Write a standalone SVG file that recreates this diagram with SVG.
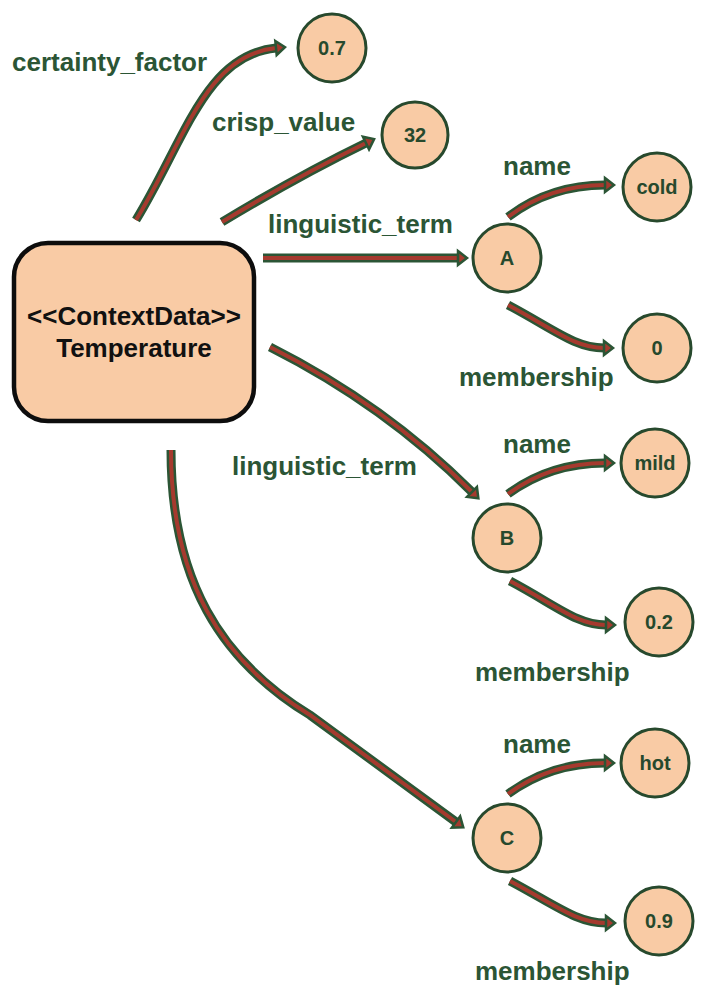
<svg xmlns="http://www.w3.org/2000/svg" width="703" height="1000" viewBox="0 0 703 1000">
<style>
.co{fill:none;stroke:#2b5535;stroke-width:9;stroke-linecap:butt}
.ci{fill:none;stroke:#a53a2e;stroke-width:4;stroke-linecap:butt}
.nd{fill:#f9cba5;stroke:#27492d;stroke-width:3}
.nt{font-family:"Liberation Sans",Arial,sans-serif;font-weight:bold;font-size:20px;fill:#27492d;text-anchor:middle}
.lb{font-family:"Liberation Sans",Arial,sans-serif;font-weight:bold;font-size:26px;fill:#2b5535}
.mt{font-family:"Liberation Sans",Arial,sans-serif;font-weight:bold;font-size:26px;fill:#111;text-anchor:middle}
</style>
<defs>
<marker id="ah" markerUnits="userSpaceOnUse" markerWidth="14" markerHeight="20" viewBox="-2 -10 14 20" refX="0" refY="0" orient="auto">
<path d="M0,-7 L9,0 L0,7 Z" fill="#a53a2e" stroke="#2b5535" stroke-width="2.5" stroke-linejoin="miter"/>
</marker>
</defs>
<g id="connectors">
<path class="co" d="M136,220 C185,140 205,55 276,48"/>
<path class="ci" d="M136,220 C185,140 205,55 276,48" marker-end="url(#ah)"/>
<path class="co" d="M222,222 Q300,175 366,143"/>
<path class="ci" d="M222,222 Q300,175 366,143" marker-end="url(#ah)"/>
<path class="co" d="M263,258 L458,258"/>
<path class="ci" d="M263,258 L458,258" marker-end="url(#ah)"/>
<path class="co" d="M270,347 Q385,405 472,492"/>
<path class="ci" d="M270,347 Q385,405 472,492" marker-end="url(#ah)"/>
<path class="co" d="M171,450 C171,580 220,660 310,715 L456,822"/>
<path class="ci" d="M171,450 C171,580 220,660 310,715 L456,822" marker-end="url(#ah)"/>
<path class="co" d="M508,217 Q550,185 605,185"/>
<path class="ci" d="M508,217 Q550,185 605,185" marker-end="url(#ah)"/>
<path class="co" d="M508,305 C555,330 575,348 604,348"/>
<path class="ci" d="M508,305 C555,330 575,348 604,348" marker-end="url(#ah)"/>
<path class="co" d="M508,494 Q550,463 605,463"/>
<path class="ci" d="M508,494 Q550,463 605,463" marker-end="url(#ah)"/>
<path class="co" d="M510,581 C557,606 577,625 606,625"/>
<path class="ci" d="M510,581 C557,606 577,625 606,625" marker-end="url(#ah)"/>
<path class="co" d="M508,794 Q550,763 605,763"/>
<path class="ci" d="M508,794 Q550,763 605,763" marker-end="url(#ah)"/>
<path class="co" d="M510,881 C557,906 577,923 606,923"/>
<path class="ci" d="M510,881 C557,906 577,923 606,923" marker-end="url(#ah)"/>
</g>
<g id="labels">
<text class="lb" x="12" y="71">certainty_factor</text>
<text class="lb" x="212" y="131">crisp_value</text>
<text class="lb" x="268" y="233">linguistic_term</text>
<text class="lb" x="503" y="175">name</text>
<text class="lb" x="459" y="386">membership</text>
<text class="lb" x="232" y="475">linguistic_term</text>
<text class="lb" x="503" y="453">name</text>
<text class="lb" x="475" y="681">membership</text>
<text class="lb" x="503" y="753">name</text>
<text class="lb" x="475" y="980">membership</text>
</g>
<g id="temperature">
<rect x="14" y="243" width="240" height="178" rx="34" ry="34" fill="#f9cba5" stroke="#0d0d0d" stroke-width="4.5"/>
<text class="mt" x="134" y="325">&lt;&lt;ContextData&gt;&gt;</text>
<text class="mt" x="134" y="357">Temperature</text>
</g>
<g id="n07"><circle class="nd" cx="332" cy="48" r="34"/><text class="nt" x="332" y="55">0.7</text></g>
<g id="n32"><circle class="nd" cx="415" cy="135" r="33"/><text class="nt" x="415" y="142">32</text></g>
<g id="nA"><circle class="nd" cx="507" cy="258" r="34"/><text class="nt" x="507" y="265">A</text></g>
<g id="ncold"><circle class="nd" cx="657" cy="187" r="34"/><text class="nt" x="657" y="194">cold</text></g>
<g id="n0"><circle class="nd" cx="657" cy="348" r="34"/><text class="nt" x="657" y="355">0</text></g>
<g id="nB"><circle class="nd" cx="507" cy="538" r="34"/><text class="nt" x="507" y="545">B</text></g>
<g id="nmild"><circle class="nd" cx="655" cy="463" r="34"/><text class="nt" x="655" y="470">mild</text></g>
<g id="n02"><circle class="nd" cx="659" cy="622" r="34"/><text class="nt" x="659" y="629">0.2</text></g>
<g id="nC"><circle class="nd" cx="507" cy="838" r="34"/><text class="nt" x="507" y="845">C</text></g>
<g id="nhot"><circle class="nd" cx="655" cy="763" r="34"/><text class="nt" x="655" y="770">hot</text></g>
<g id="n09"><circle class="nd" cx="659" cy="921" r="34"/><text class="nt" x="659" y="928">0.9</text></g>
</svg>
